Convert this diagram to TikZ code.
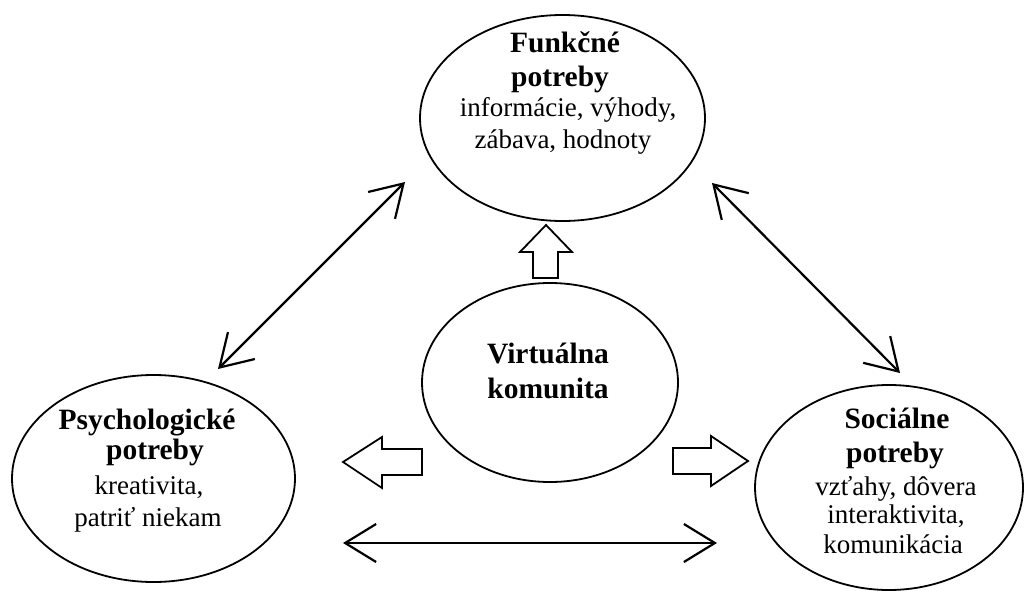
\documentclass[tikz,border=0pt]{standalone}
\usepackage{fontspec}
\setmainfont{Liberation Serif}
\usetikzlibrary{shapes.geometric,arrows.meta}
\begin{document}
\begin{tikzpicture}[x=1pt,y=-1pt,
  ell/.style={draw,ellipse,line width=1.8pt,inner sep=0pt},
  bt/.style={anchor=base,inner sep=0pt,font=\fontsize{29.5}{32}\selectfont\bfseries},
  rt/.style={anchor=base,inner sep=0pt,font=\fontsize{27}{30}\selectfont},
  dbl/.style={line width=2.2pt,{Straight Barb[length=31pt,width=38pt,line width=2.2pt]}-{Straight Barb[length=31pt,width=38pt,line width=2.2pt]}},
  hollow/.style={draw,line width=1.8pt,line join=miter,fill=white}]
\useasboundingbox (0,0) rectangle (1025,591);
% ellipses
\node[ell,minimum width=285pt,minimum height=206pt] (top) at (562.5,118) {};
\node[ell,minimum width=283pt,minimum height=207pt] (left) at (153.5,478.5) {};
\node[ell,minimum width=268pt,minimum height=205pt] (right) at (889,487.5) {};
\node[ell,minimum width=256pt,minimum height=199pt] (mid) at (550,382.5) {};
% texts
\node[bt] (t1) at (565,53) {Funkčné};
\node[bt] (t2) at (560,87) {potreby};
\node[rt] (t3) at (568,117) {informácie, výhody,};
\node[rt] (t4) at (563,149) {zábava, hodnoty};
\node[bt] (l1) at (147,429) {Psychologické};
\node[bt] (l2) at (155,459) {potreby};
\node[rt] (l3) at (149,494) {kreativita,};
\node[rt] (l4) at (148,526) {patriť niekam};
\node[bt] (r1) at (897,428) {Sociálne};
\node[bt] (r2) at (895,462) {potreby};
\node[rt] (r3) at (896,495) {vzťahy, dôvera};
\node[rt] (r4) at (896,523) {interaktivita,};
\node[rt] (r5) at (893,553) {komunikácia};
\node[bt] (m1) at (548,363) {Virtuálna};
\node[bt] (m2) at (548,398) {komunita};
% hollow block arrows
\draw[hollow] (558,278) -- (558,252) -- (572,252) -- (546,225) -- (520,252) -- (533,252) -- (533,278) -- cycle;
\draw[hollow] (422,449) -- (382,449) -- (382,437) -- (343,462) -- (382,488) -- (382,475) -- (422,475) -- cycle;
\draw[hollow] (673,448) -- (711,448) -- (711,436) -- (748,461) -- (711,486) -- (711,474) -- (673,474) -- cycle;
% double arrows
\coordinate (bl) at (343,543);
\coordinate (br) at (717,543);
\coordinate (dl1) at (218,369);
\coordinate (dl2) at (405,182);
\coordinate (dr1) at (712,183);
\coordinate (dr2) at (900,373);
\draw[dbl] (bl) -- (br);
\draw[dbl] (dl1) -- (dl2);
\draw[dbl] (dr1) -- (dr2);
\end{tikzpicture}
\end{document}
